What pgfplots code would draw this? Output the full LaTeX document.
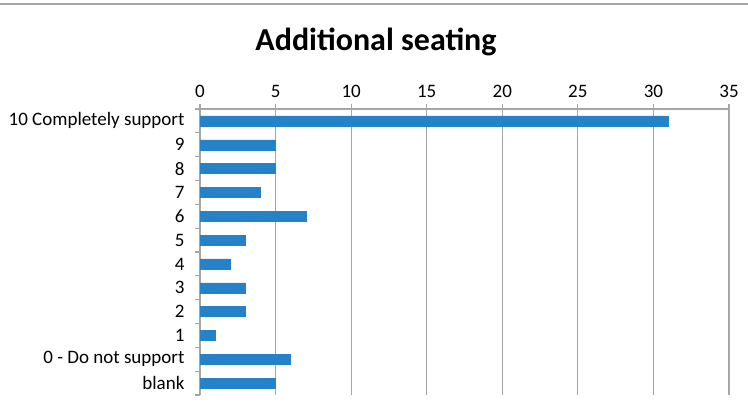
\documentclass[border=0pt]{standalone}
\usepackage{pgfplots}
\pgfplotsset{compat=1.18}
\usepackage{fontspec}
\setmainfont{Carlito}
\definecolor{barblue}{RGB}{38,130,200}
\definecolor{gridgray}{RGB}{166,166,166}
\begin{document}
\begin{tikzpicture}
\path[use as bounding box] (0,0) rectangle (748bp,411bp);
\draw[gridgray, line width=1.2bp] (0,407bp) -- (748bp,407bp);
\node[font=\fontsize{32bp}{36bp}\selectfont\bfseries] at (376bp,369bp) {Additional seating};
\begin{axis}[
    at={(200bp,16bp)}, anchor=south west,
    scale only axis,
    width=529bp, height=286bp,
    xbar, bar width=10bp,
    xmin=0, xmax=35,
    xtick={0,5,...,35},
    axis x line=top, axis y line=left,
    axis line style={gridgray, line width=1.2bp, -},
    xmajorgrids,
    major grid style={gridgray, line width=1.2bp},
    tick style={gridgray, line width=1.2bp},
    tick align=outside,
    major tick length=5bp,
    y dir=reverse,
    ymin=-0.5, ymax=11.5,
    ytick={-0.5,0.5,...,11.5},
    yticklabels={},
    extra y ticks={0,...,11},
    extra y tick labels={10 Completely support,9,8,7,6,5,4,3,2,1,0 - Do not support,blank},
    extra y tick style={major tick length=0pt, grid=none},
    ticklabel style={font=\fontsize{19bp}{21bp}\selectfont},
    /pgf/number format/assume math mode=true,
    xticklabel style={yshift=3bp},
    yticklabel style={xshift=-12bp},
]
\addplot[fill=barblue, draw=barblue] coordinates {
    (31,0) (5,1) (5,2) (4,3) (7,4) (3,5) (2,6) (3,7) (3,8) (1,9) (6,10) (5,11)
};
\end{axis}
\end{tikzpicture}
\end{document}
